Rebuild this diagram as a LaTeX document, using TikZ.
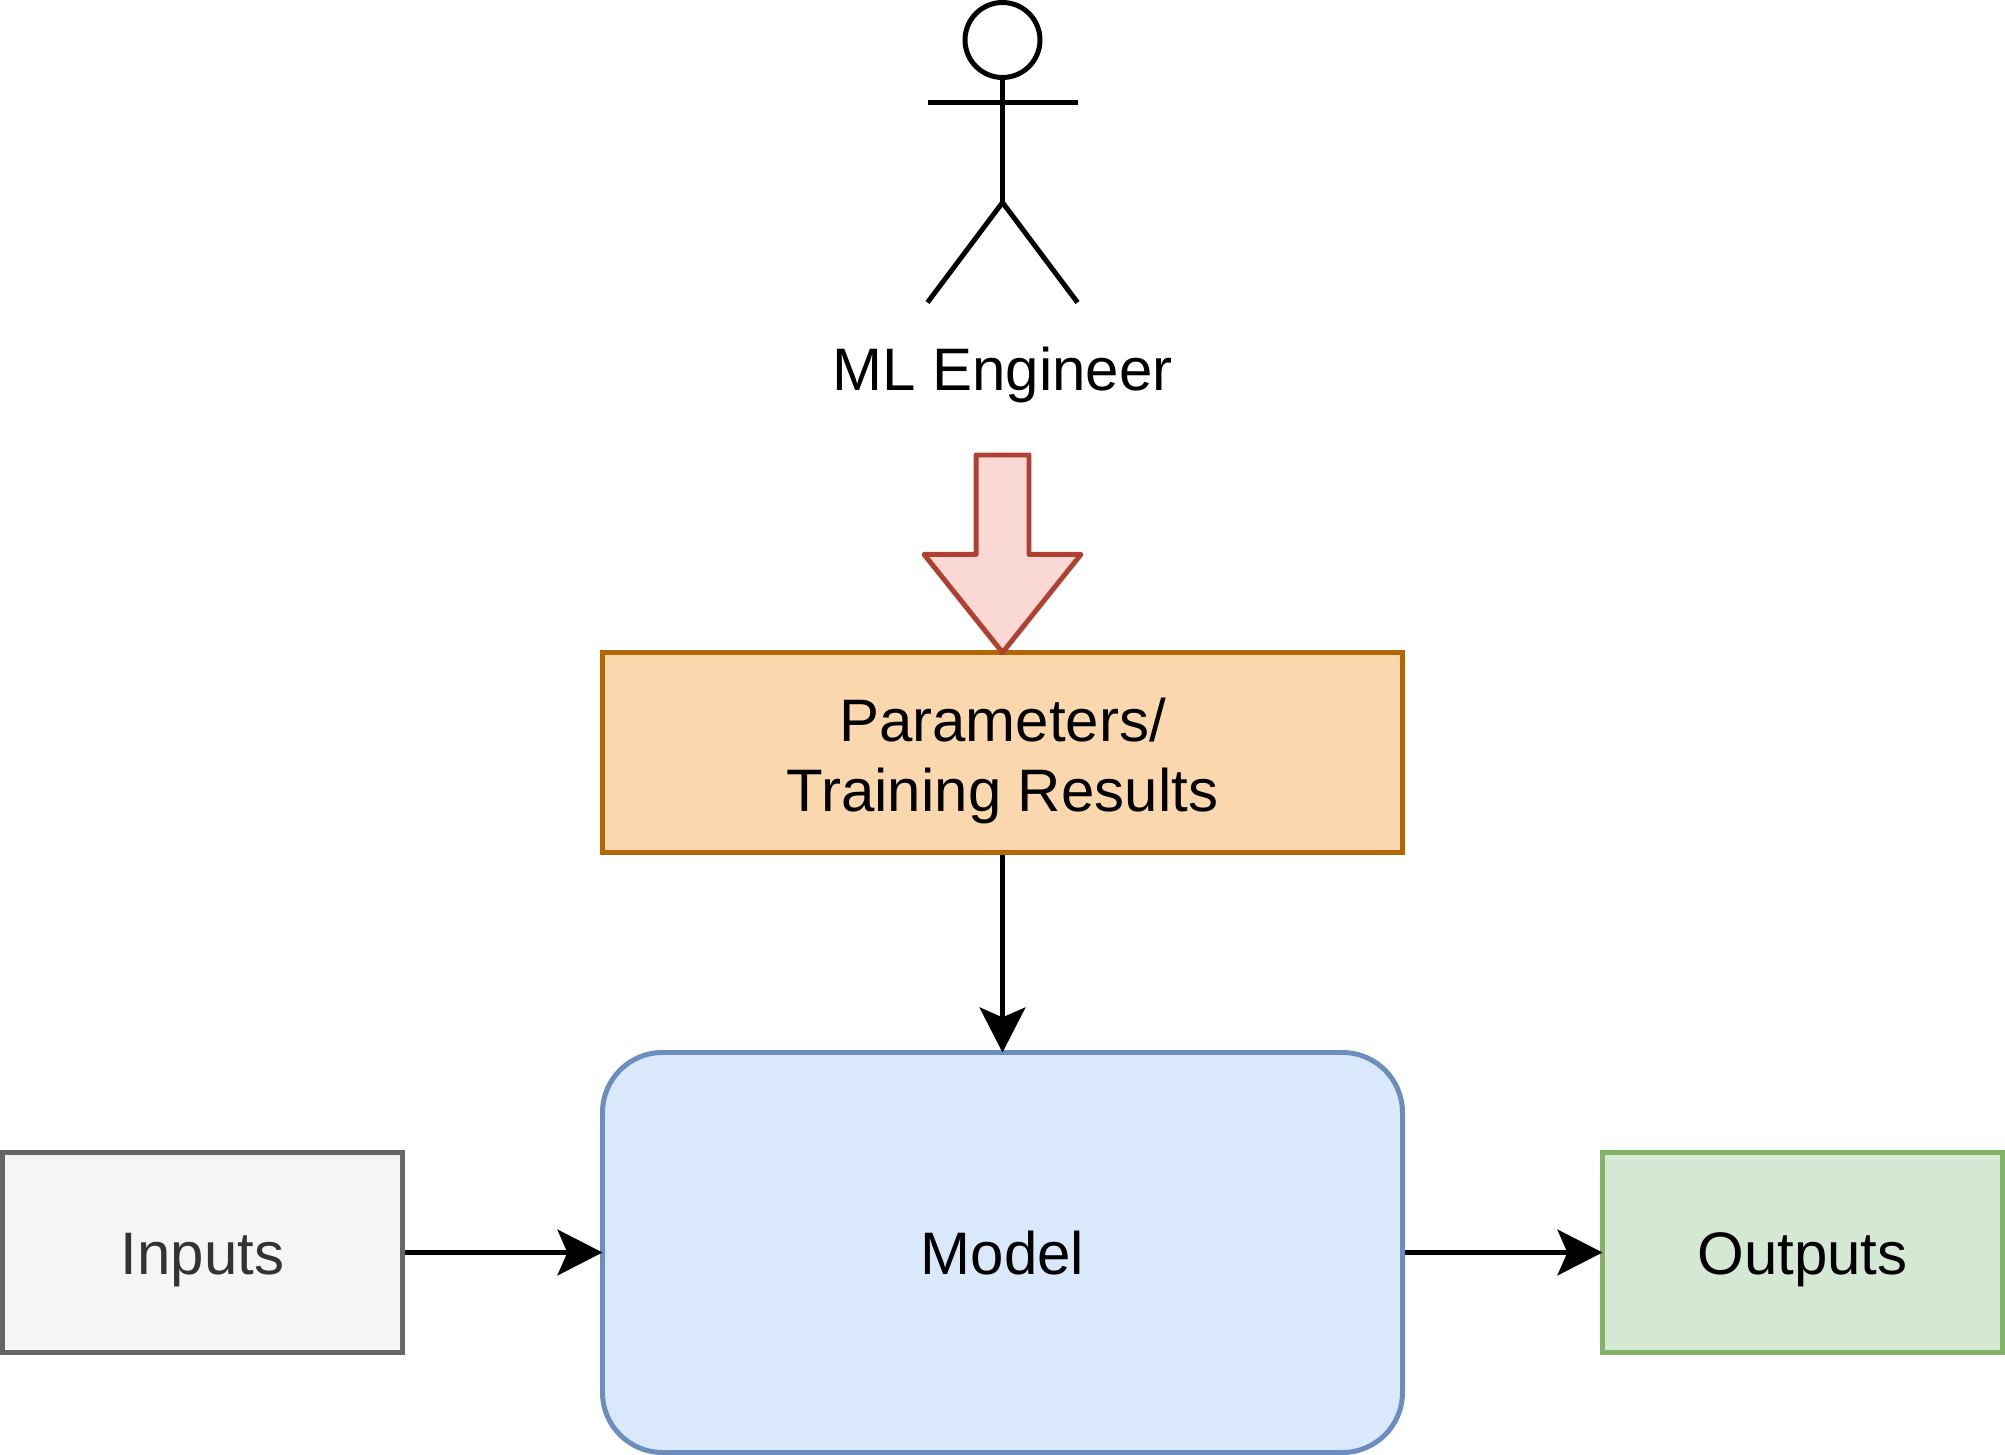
\documentclass[tikz,border=0pt]{standalone}
\usepackage{fontspec}
\setmainfont{Liberation Sans}
\usepackage{tikz}
\usetikzlibrary{arrows.meta,shapes.arrows}

\definecolor{modelfill}{HTML}{DAE8FC}
\definecolor{modelline}{HTML}{6C8EBF}
\definecolor{paramfill}{HTML}{FAD7AC}
\definecolor{paramline}{HTML}{B46504}
\definecolor{inputfill}{HTML}{F5F5F5}
\definecolor{inputline}{HTML}{666666}
\definecolor{inputtext}{HTML}{333333}
\definecolor{outputfill}{HTML}{D5E8D4}
\definecolor{outputline}{HTML}{82B366}
\definecolor{blockfill}{HTML}{FAD9D5}
\definecolor{blockline}{HTML}{AE4132}

\tikzset{
    box/.style={draw, line width=1.42pt, outer sep=0pt, inner sep=0pt, align=center,
        text height=15.86pt, text depth=3.06pt,
        font=\fontsize{17.07pt}{19.9pt}\selectfont},
    flow/.style={line width=1.42pt, shorten <=0.71pt, -{Stealth[length=12.8pt, width=13pt, inset=2.8pt]}},
    limb/.style={line width=1.42pt, line join=round}
}

\begin{document}
\begin{tikzpicture}
                \useasboundingbox (0, 0) rectangle (20.05, -14.55);
                \node[box, fill=modelfill, draw=modelline, rounded corners=0.6cm, minimum width=8cm, minimum height=4cm] (model) at (10.025, -12.525) {Model};
                \node[box, fill=paramfill, draw=paramline, minimum width=8cm, minimum height=2cm, text height=36.3pt, text depth=3pt] (params) at (10.025, -7.525) {Parameters/\\Training Results};
                \node[box, fill=inputfill, draw=inputline, text=inputtext, minimum width=4cm, minimum height=2cm] (inputs) at (2.025, -12.525) {Inputs};
                \node[box, fill=outputfill, draw=outputline, minimum width=4cm, minimum height=2cm] (outputs) at (18.025, -12.525) {Outputs};
                \draw[flow] (inputs) -- (model);
                \draw[flow] (model) -- (outputs);
                \draw[flow] (params) -- (model);
                \node[draw=blockline, fill=blockfill, line width=1.42pt, line join=round, outer sep=0pt, inner sep=0.24cm, shape=single arrow, shape border rotate=270, minimum width=1.52cm, minimum height=1.975cm, single arrow head extend=0.52cm, single arrow tip angle=77.32, anchor=tip] (block) at (params.north) {};
                \node[limb, draw, circle, outer sep=0pt, inner sep=0pt, minimum size=0.75cm] (head) at (10.025, -0.4) {};
                \coordinate (hips) at (10.025, -2.025);
                \coordinate (handl) at (9.275, -1.025);
                \coordinate (handr) at (10.775, -1.025);
                \coordinate (footl) at (9.275, -3.025);
                \coordinate (footr) at (10.775, -3.025);
                \draw[limb] (head) -- (hips);
                \draw[limb] (handl) -- (handr);
                \draw[limb] (footl) -- (hips) -- (footr);
                \node[anchor=base, inner sep=0pt, font=\fontsize{17.07pt}{19.9pt}\selectfont] (engineer) at (10.025, -3.91) {ML Engineer};
            \end{tikzpicture}
\end{document}
